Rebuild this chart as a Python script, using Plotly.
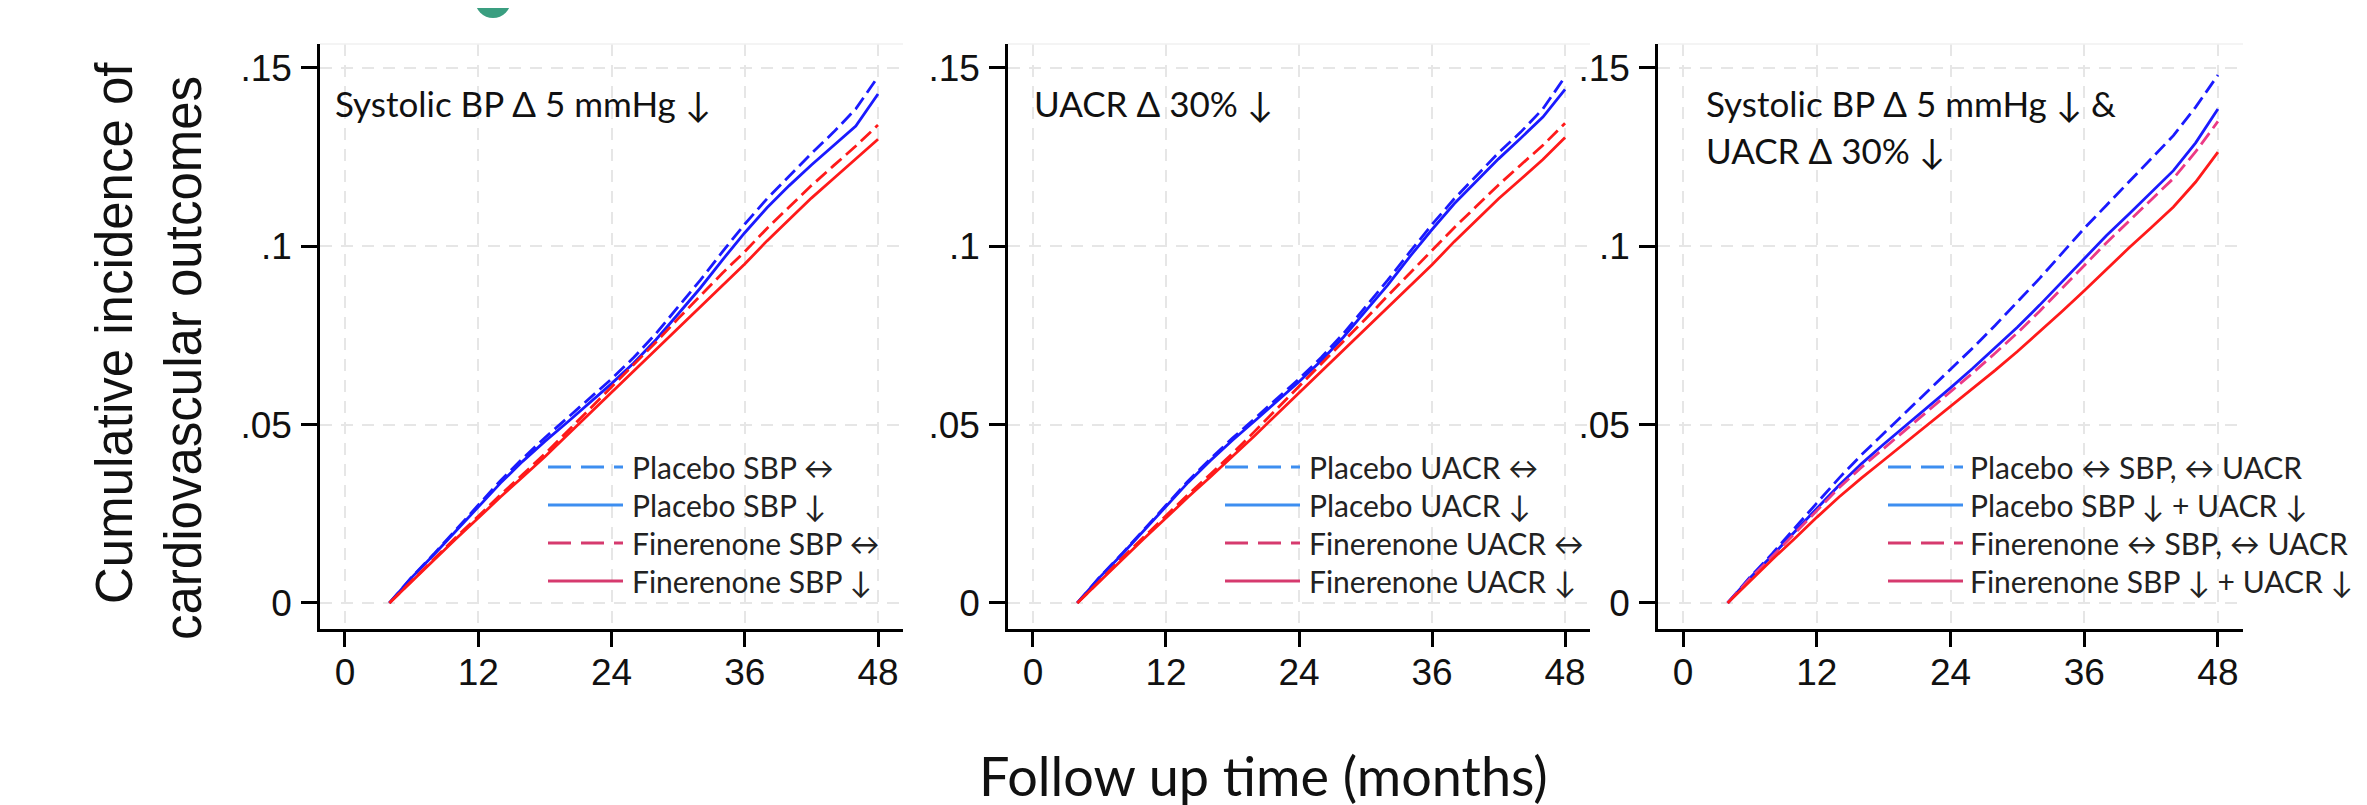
import plotly.graph_objects as go

W, H = 2367, 805

# ---------------- data ----------------
months = [4, 6, 8, 10, 12, 14, 16, 18, 20, 22, 24, 26, 28, 30, 32, 34, 36, 38, 40, 42, 44, 46, 48]

# Panel 1: Systolic BP
p1_placebo_same = [0, .0072, .0137, .0205, .0275, .0343, .0405, .0463, .0518, .0573, .0628, .0688, .0755, .083, .0905, .0985, .1062, .1133, .1198, .126, .132, .1385, .1475]
p1_placebo_down = [0, .0071, .0135, .0202, .027, .0336, .0397, .0453, .0506, .056, .0615, .0673, .0738, .081, .0883, .0962, .1038, .1108, .117, .1228, .1283, .1337, .1427]
p1_fin_same = [0, .0061, .0124, .0184, .0243, .0303, .036, .0418, .048, .0543, .0605, .0667, .0731, .0797, .0862, .0925, .0985, .105, .111, .117, .1226, .1281, .134]
p1_fin_down = [0, .006, .0122, .018, .0238, .0297, .0353, .041, .047, .053, .059, .065, .0709, .077, .083, .089, .095, .1015, .1075, .1135, .119, .1245, .1300]

# Panel 2: UACR
p2_placebo_same = [0, .0072, .0137, .0205, .0274, .0342, .0404, .0462, .0517, .0572, .0628, .0688, .0755, .083, .0905, .0984, .1061, .1133, .1198, .1262, .132, .1385, .1475]
p2_placebo_down = [0, .0071, .0135, .0203, .0271, .0338, .0399, .0456, .051, .0564, .062, .0679, .0745, .0818, .0891, .0971, .1047, .1119, .1183, .1245, .1303, .1362, .1440]
p2_fin_same = [0, .0061, .0125, .0185, .0245, .0304, .0361, .0419, .0481, .0544, .0606, .0668, .0731, .0796, .0861, .0925, .0987, .1052, .1112, .1172, .1228, .1283, .1345]
p2_fin_down = [0, .006, .0122, .018, .0238, .0297, .0353, .041, .0469, .0529, .0589, .0648, .0707, .0768, .0828, .0888, .0948, .1013, .1073, .1133, .1188, .1243, .1305]

# Panel 3: Systolic BP & UACR
p3_placebo_same = [0, .0072, .0138, .021, .028, .035, .0415, .0475, .0535, .0595, .0655, .0715, .0778, .0843, .091, .098, .105, .1115, .118, .1245, .131, .139, .148]
p3_placebo_down = [0, .007, .0133, .020, .0265, .033, .039, .0445, .0497, .055, .0603, .0658, .0715, .0773, .0835, .090, .0965, .103, .109, .115, .1212, .129, .1385]
p3_fin_same = [0, .0068, .013, .0195, .026, .0323, .038, .0433, .0485, .0537, .059, .0645, .070, .0757, .0818, .0882, .0947, .101, .107, .113, .119, .1265, .135]
p3_fin_down = [0, .0062, .0122, .018, .024, .0297, .035, .040, .045, .050, .055, .060, .0652, .0705, .076, .0817, .0875, .0935, .0995, .1052, .111, .118, .1264]

panel_titles = [
    ["Systolic BP \u0394 5 mmHg \u2193"],
    ["UACR \u0394 30% \u2193"],
    ["Systolic BP \u0394 5 mmHg \u2193 &", "UACR \u0394 30% \u2193"],
]
legend_labels = [
    ["Placebo SBP \u2194", "Placebo SBP \u2193", "Finerenone SBP \u2194", "Finerenone SBP \u2193"],
    ["Placebo UACR \u2194", "Placebo UACR \u2193", "Finerenone UACR \u2194", "Finerenone UACR \u2193"],
    ["Placebo \u2194 SBP, \u2194 UACR", "Placebo SBP \u2193 + UACR \u2193",
     "Finerenone \u2194 SBP, \u2194 UACR", "Finerenone SBP \u2193 + UACR \u2193"],
]
x_ticks = [0, 12, 24, 36, 48]
y_ticks = [0, 0.05, 0.1, 0.15]
y_tick_text = ["0", ".05", ".1", ".15"]
x_title = "Follow up time (months)"
y_title = ["Cumulative incidence of", "cardiovascular outcomes"]

panels = [
    [p1_placebo_same, p1_placebo_down, p1_fin_same, p1_fin_down],
    [p2_placebo_same, p2_placebo_down, p2_fin_same, p2_fin_down],
    [p3_placebo_same, p3_placebo_down, p3_fin_same, p3_fin_down],
]

# ---------------- styling ----------------
BLUE = "#1a1aff"
RED = "#ff1a1a"
PINK = "#ec3a86"
LEG_BLUE = "#3d8ef0"
LEG_RED = "#d63a6e"
DASH = "14px,6px"
TXT_FONT = "Lato, Open Sans, DejaVu Sans, sans-serif"
NUM_FONT = "Liberation Sans, Arial, sans-serif"

# pixel layout of each panel: (axis left, axis right)
panel_px = [(312, 895), (1000, 1582), (1650, 2235)]
top_px, bot_px = 36, 621
title_left_px = [325, 1024, 1696]
title_rows_px = [95, 142]
legend_key_px = [(540, 615, 622), (1217, 1292, 1299), (1880, 1955, 1960)]
legend_rows_px = [459, 497, 535, 573]


def px(xp):
    return xp / W


def py(yp):
    return 1 - yp / H


fig = go.Figure()
layout = dict(
    width=W, height=H,
    margin=dict(l=0, r=0, t=0, b=0),
    paper_bgcolor="white", plot_bgcolor="white",
    showlegend=False,
)
shapes = []
annotations = []

for i, series in enumerate(panels):
    n = "" if i == 0 else str(i + 1)
    xa, ya = "x" + n, "y" + n
    styles = [
        (BLUE, DASH), (BLUE, "solid"),
        (PINK if i == 2 else RED, DASH), (RED, "solid"),
    ]
    for vals, (col, dsh), lab in zip(series, styles, legend_labels[i]):
        fig.add_trace(go.Scatter(
            x=months, y=vals, mode="lines", name=lab,
            line=dict(color=col, width=2.8, dash=dsh),
            xaxis=xa, yaxis=ya, hoverinfo="skip"))
    l, r = panel_px[i]
    layout["xaxis" + n] = dict(
        domain=[px(l), px(r)], range=[-2.25, 50.25], anchor=ya,
        tickvals=x_ticks, ticktext=[str(t) for t in x_ticks],
        ticks="outside", ticklen=15, tickwidth=2.5, tickcolor="black",
        ticklabelstandoff=-6,
        showline=True, linecolor="black", linewidth=2.5,
        showgrid=True, gridcolor="#e6e6e6", gridwidth=2, griddash="12px,9px",
        zeroline=False,
        tickfont=dict(family=NUM_FONT, size=37, color="#111"),
    )
    layout["yaxis" + n] = dict(
        domain=[py(bot_px), py(top_px)], range=[-0.0073, 0.1567], anchor=xa,
        tickvals=y_ticks, ticktext=y_tick_text,
        ticks="outside", ticklen=16, tickwidth=2.5, tickcolor="black",
        ticklabelstandoff=2,
        showline=True, linecolor="black", linewidth=2.5,
        showgrid=True, gridcolor="#e6e6e6", gridwidth=2, griddash="12px,9px",
        zeroline=False,
        tickfont=dict(family=NUM_FONT, size=37, color="#111"),
    )
    # faint plot region top border
    shapes.append(dict(type="line", xref="paper", yref="paper",
                       x0=px(l), x1=px(r), y0=py(top_px), y1=py(top_px),
                       line=dict(color="#f0f0f0", width=1.5)))
    # panel title text
    for k, t in enumerate(panel_titles[i]):
        annotations.append(dict(
            text=t, xref="paper", yref="paper", x=px(title_left_px[i]), y=py(title_rows_px[k]),
            xanchor="left", yanchor="middle", showarrow=False,
            font=dict(family=TXT_FONT, size=35, color="#111")))
    # legend keys
    kx0, kx1, tx = legend_key_px[i]
    key_styles = [(LEG_BLUE, "23px,10px"), (LEG_BLUE, "solid"), (LEG_RED, "23px,10px"), (LEG_RED, "solid")]
    for (col, dsh), ry, lab in zip(key_styles, legend_rows_px, legend_labels[i]):
        shapes.append(dict(type="line", xref="paper", yref="paper",
                           x0=px(kx0), x1=px(kx1), y0=py(ry), y1=py(ry),
                           line=dict(color=col, width=3, dash=dsh)))
        annotations.append(dict(
            text=lab, xref="paper", yref="paper", x=px(tx), y=py(ry),
            xanchor="left", yanchor="middle", showarrow=False,
            font=dict(family=TXT_FONT, size=30, color="#222")))

# axis titles
annotations.append(dict(text=x_title, xref="paper", yref="paper", x=px(1255), y=py(801),
                        xanchor="center", yanchor="bottom", showarrow=False, borderpad=0,
                        font=dict(family=TXT_FONT, size=54, color="#111")))
annotations.append(dict(text=y_title[0], xref="paper", yref="paper", x=px(106), y=py(325),
                        xanchor="center", yanchor="middle", showarrow=False, textangle=-90,
                        font=dict(family=NUM_FONT, size=51, color="#111")))
annotations.append(dict(text=y_title[1], xref="paper", yref="paper", x=px(176), y=py(350),
                        xanchor="center", yanchor="middle", showarrow=False, textangle=-90,
                        font=dict(family=NUM_FONT, size=51, color="#111")))

# small teal mark cut off at the top edge
shapes.append(dict(type="circle", xref="paper", yref="paper",
                   x0=px(467), x1=px(503), y0=py(10), y1=py(-26),
                   line=dict(width=0), fillcolor="#3a9e80"))

layout["shapes"] = shapes
layout["annotations"] = annotations
fig.update_layout(**layout)
fig.write_html("out.html")
